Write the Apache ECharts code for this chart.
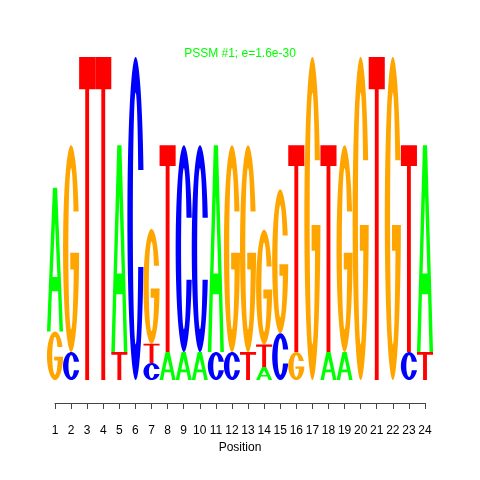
<!DOCTYPE html>
<html>
<head>
<meta charset="utf-8">
<script src="https://cdn.jsdelivr.net/npm/echarts@6/dist/echarts.min.js"></script>
<style>
html,body{margin:0;padding:0;background:#fff;}
#chart{width:480px;height:480px;}
</style>
</head>
<body>
<div id="chart"></div>
<script>
// ---- data (information content, bits) ----
const positions = [1,2,3,4,5,6,7,8,9,10,11,12,13,14,15,16,17,18,19,20,21,22,23,24];
const letters = ['A','C','G','T'];
const bitsA = [0.89,0,0,0,1.28,0,0,0.173,0.173,0.173,1.28,0,0,0.08,0,0,0,0.173,0.173,0,0,0,0,1.28];
const bitsC = [0,0.173,0,0,0,2.0,0.105,0,1.28,1.28,0.173,0.173,0,0,0.29,0,0,0,0,0,0,0,0.173,0];
const bitsG = [0.30,1.28,0,0,0,0,0.71,0,0,0,0,1.28,1.28,0.71,0.89,0.173,2.0,0,1.28,2.0,0,2.0,0,0];
const bitsT = [0,0,2.0,2.0,0.173,0,0.12,1.28,0,0,0,0,0.173,0.14,0,1.28,0,1.28,0,0,2.0,0,1.28,0.173];
const titleText = 'PSSM #1; e=1.6e-30';
const xName = 'Position';

const colors = {A:'#00FF00', C:'#0000FF', G:'#FFA500', T:'#FF0000'};

// ---- glyph outlines in a 100x100 box ----
function ell(cx, cy, rx, ry, t0, t1, n){
  const pts = [];
  for (let i = 0; i <= n; i++){
    const t = (t0 + (t1 - t0) * i / n) * Math.PI / 180;
    pts.push([cx + rx * Math.cos(t), cy - ry * Math.sin(t)]);
  }
  return pts;
}
function toPath(pts){
  return 'M' + pts.map(p => p[0].toFixed(2) + ',' + p[1].toFixed(2)).join('L') + 'Z';
}
const deg = x => Math.asin(x) * 180 / Math.PI;
const sx = 33, sy = 11;
const irx = 50 - sx, iry = 50 - sy;
// C
const cPts = ell(50,50,50,50, deg(15/50), 360 - deg(15/50), 80)
  .concat(ell(50,50,irx,iry, 360 - deg(15/iry), deg(15/iry), 80));
// G
const gPts = ell(50,50,50,50, deg(18/50), 360 - deg(2/50), 90)
  .concat([[45,52],[45,60]])
  .concat(ell(50,50,irx,iry, 360 - deg(10/iry), deg(18/iry), 80));
const GLYPH = {
  A: 'M37,0H63L100,100H78L69,72H31L22,100H0Z M50,24L35,62H65Z',
  C: toPath(cPts),
  G: toPath(gPts),
  T: 'M0,0H100V10H62V100H38V10H0Z'
};

// ---- stack letters per column (smallest at bottom) ----
const bits = {A: bitsA, C: bitsC, G: bitsG, T: bitsT};
const seriesData = {A: [], C: [], G: [], T: []};
positions.forEach((pos, i) => {
  const col = letters.map(l => ({l, h: bits[l][i]})).filter(d => d.h > 0)
    .sort((a, b) => a.h - b.h);
  let y = 0;
  col.forEach(d => {
    seriesData[d.l].push([pos, y, y + d.h]);
    y += d.h;
  });
});

function makeRender(letter){
  return function(params, api){
    const x = api.value(0), y0 = api.value(1), y1 = api.value(2);
    const p0 = api.coord([x - 0.5, y0]);
    const p1 = api.coord([x + 0.5, y1]);
    return {
      type: 'path',
      shape: {
        pathData: GLYPH[letter],
        x: p0[0], y: p1[1],
        width: p1[0] - p0[0], height: p0[1] - p1[1],
        layout: 'cover'
      },
      style: {fill: colors[letter]}
    };
  };
}

const chart = echarts.init(document.getElementById('chart'), null, {renderer: 'canvas'});
chart.setOption({
  animation: false,
  backgroundColor: '#fff',
  title: {
    text: titleText, left: 'center', top: 43,
    textStyle: {color: '#00FF00', fontSize: 12, fontWeight: 'normal', fontFamily: 'Liberation Sans'}
  },
  grid: {left: 55, right: 55, top: 57, bottom: 100},
  xAxis: {
    type: 'value', min: 1, max: 24, interval: 1,
    offset: 23,
    name: xName, nameLocation: 'middle', nameGap: 38,
    nameTextStyle: {color: '#000', fontSize: 12, fontFamily: 'Liberation Sans'},
    axisLine: {show: true, onZero: false, lineStyle: {color: '#444', width: 1}},
    axisTick: {show: true, length: 6, lineStyle: {color: '#444'}},
    axisLabel: {color: '#000', fontSize: 12, margin: 22, fontFamily: 'Liberation Sans'},
    splitLine: {show: false}
  },
  yAxis: {type: 'value', min: 0, max: 2, show: false},
  series: letters.map(l => ({
    type: 'custom', name: l, clip: false,
    renderItem: makeRender(l),
    encode: {x: 0, y: [1, 2]},
    data: seriesData[l]
  }))
});
</script>
</body>
</html>
